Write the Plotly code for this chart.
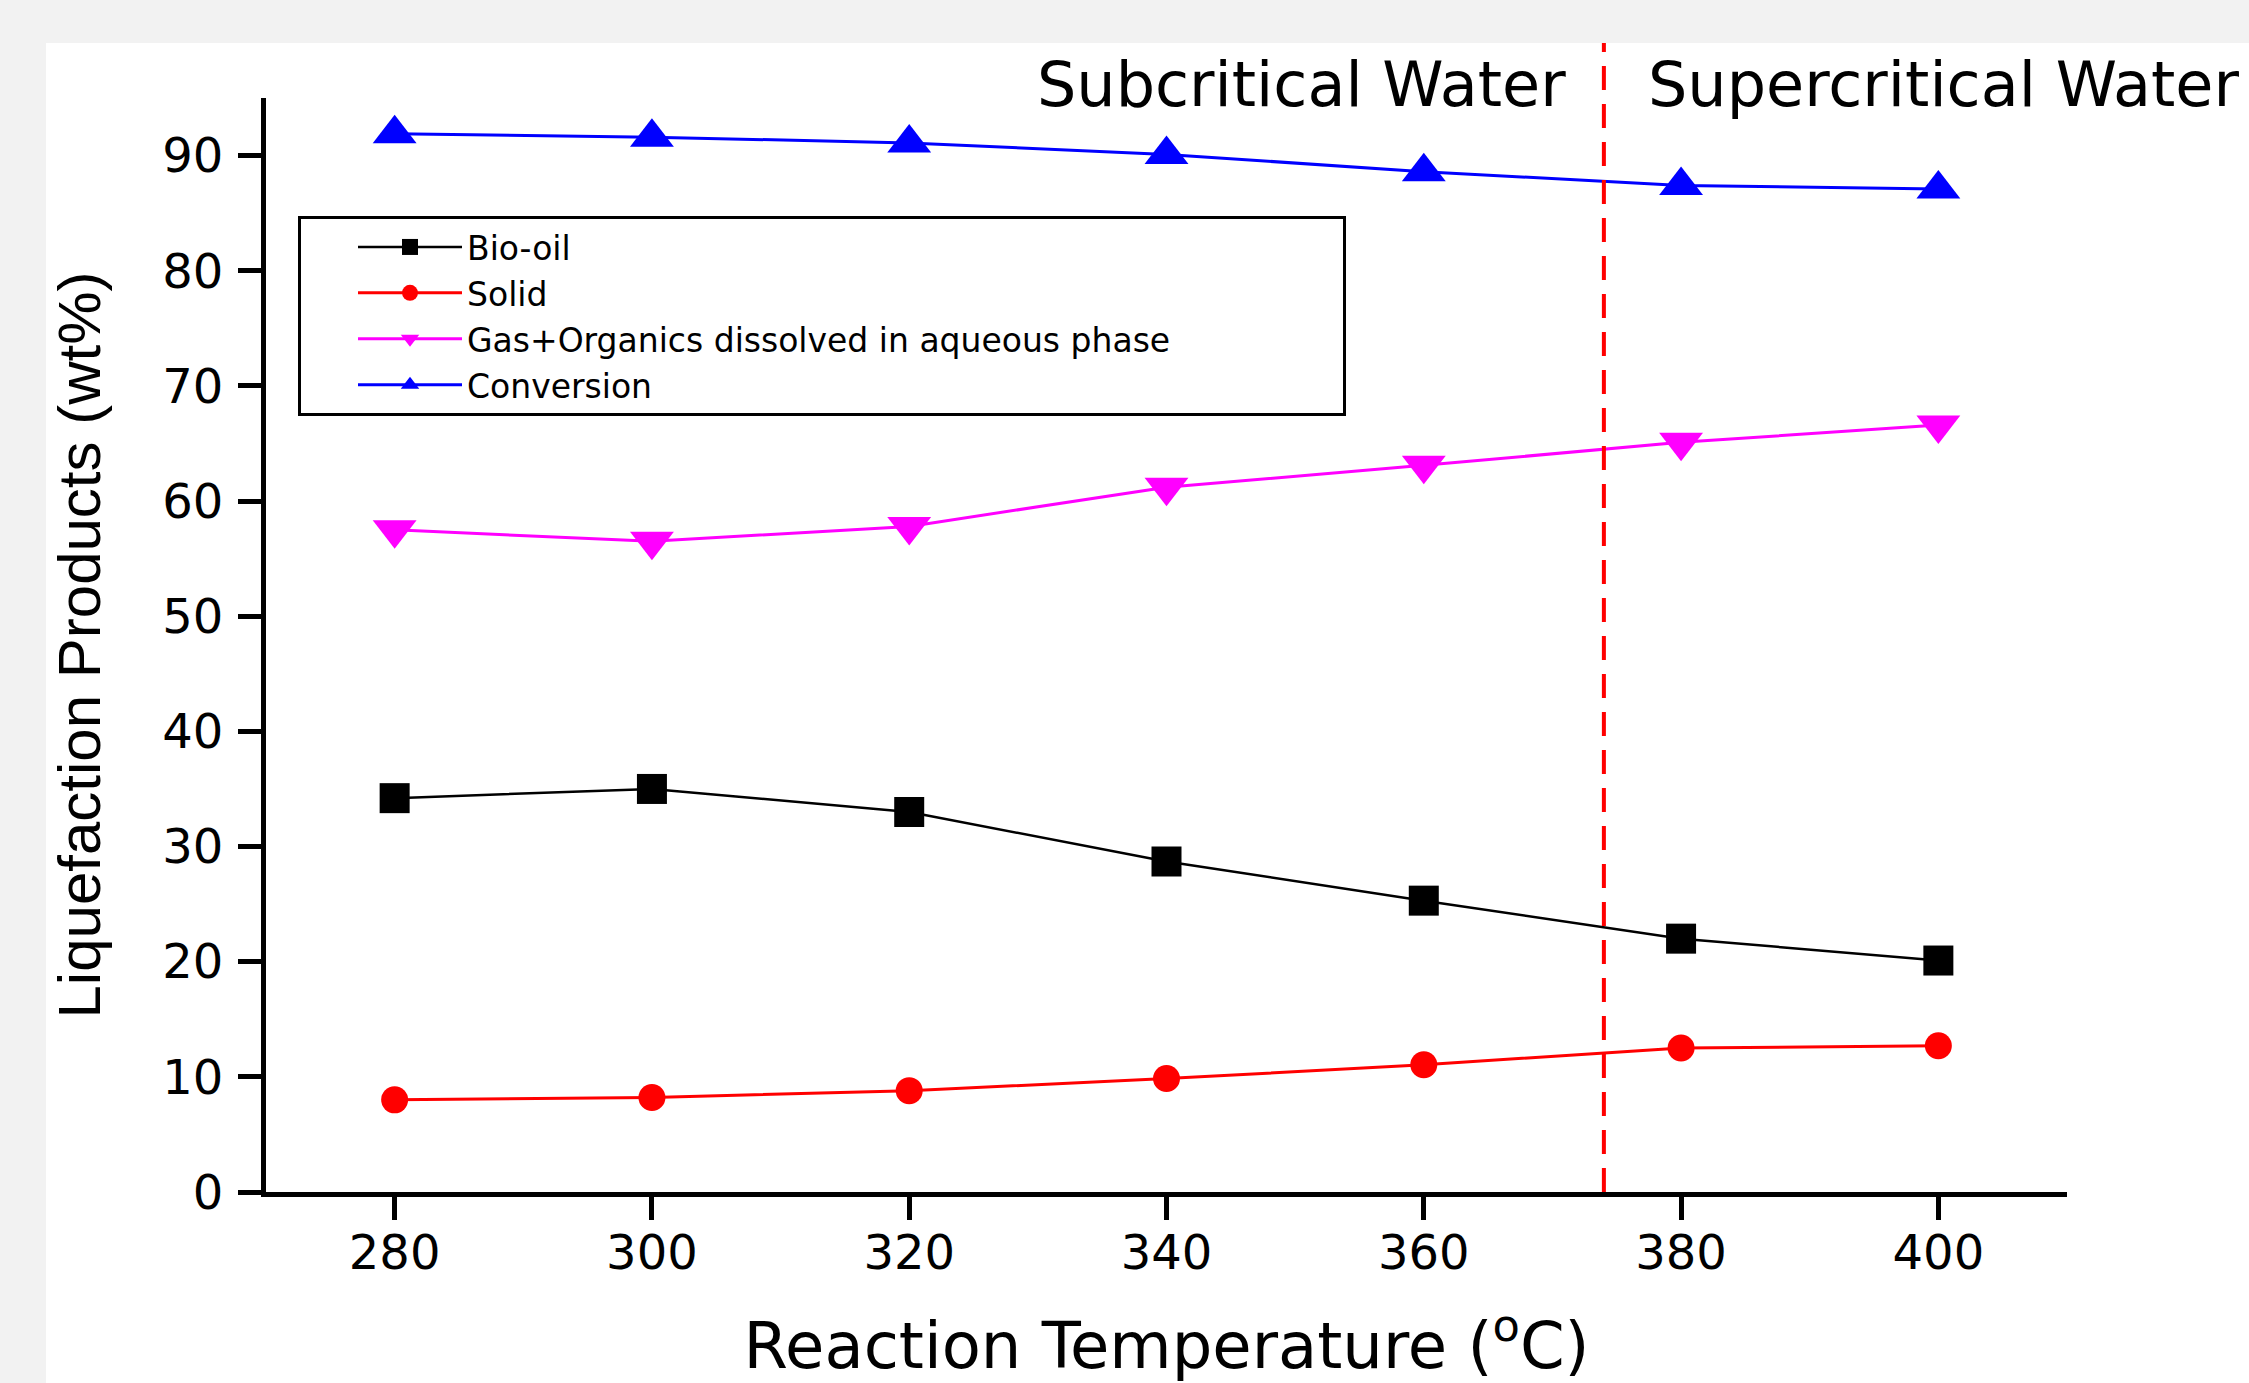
import plotly.graph_objects as go

# ---- data ----
temperature = [280, 300, 320, 340, 360, 380, 400]
bio_oil = [34.2, 35.0, 33.0, 28.7, 25.3, 22.0, 20.1]
solid = [8.0, 8.2, 8.8, 9.85, 11.05, 12.5, 12.7]
gas_organics = [57.5, 56.5, 57.8, 61.2, 63.1, 65.1, 66.6]
conversion = [91.9, 91.6, 91.1, 90.1, 88.6, 87.4, 87.1]

series_names = ["Bio-oil", "Solid", "Gas+Organics dissolved in aqueous phase", "Conversion"]

x_ticks = [280, 300, 320, 340, 360, 380, 400]
y_ticks = [0, 10, 20, 30, 40, 50, 60, 70, 80, 90]
x_range = [270, 410]
y_range = [0, 95]
critical_temp = 374

W, H = 2249, 1383
ML, MR, MT, MB = 266, 182, 98, 191
PW, PH = W - ML - MR, H - MT - MB


def px_x(p):
    return (p - ML) / PW


def px_y(p):
    return (H - MB - p) / PH


fig = go.Figure()

styles = [
    ("black", "square", 30, 2.5),
    ("#ff0000", "circle", 27, 3),
    ("#ff00ff", "triangle-down", 38, 3),
    ("#0000ff", "triangle-up", 38, 3),
]
pad = {"Gas+Organics dissolved in aqueous phase": "\u00a0" * 16}
for name, vals, (col, sym, ms, lw) in zip(series_names,
                                         [bio_oil, solid, gas_organics, conversion],
                                         styles):
    fig.add_trace(go.Scatter(
        x=temperature, y=vals, name=name + pad.get(name, ""), mode="lines+markers",
        line=dict(color=col, width=lw),
        marker=dict(symbol=sym, size=ms, color=col, line=dict(width=0)),
    ))

crit_xp = (critical_temp - x_range[0]) / (x_range[1] - x_range[0])

shapes = [
    dict(type="rect", xref="paper", yref="paper", x0=px_x(46), x1=1.3,
         y0=-0.3, y1=px_y(43), fillcolor="white", line=dict(width=0), layer="below"),
    dict(type="line", xref="paper", yref="paper", x0=crit_xp, x1=crit_xp,
         y0=0, y1=px_y(43), line=dict(color="#ff0000", width=4, dash="24px,14px"),
         layer="above"),
]

ann_font = dict(family="DejaVu Sans", size=62, color="black")
annotations = [
    dict(text="Subcritical Water", xref="paper", yref="paper", x=crit_xp,
         xanchor="right", xshift=-36, y=px_y(84), yanchor="middle",
         showarrow=False, font=ann_font),
    dict(text="Supercritical Water", xref="paper", yref="paper", x=crit_xp,
         xanchor="left", xshift=42, y=px_y(84), yanchor="middle",
         showarrow=False, font=ann_font),
]

fig.update_layout(
    width=W, height=H,
    margin=dict(l=ML, r=MR, t=MT, b=MB, pad=0),
    paper_bgcolor="#f2f2f2",
    plot_bgcolor="white",
    shapes=shapes,
    annotations=annotations,
    showlegend=True,
    legend=dict(
        x=px_x(298), y=px_y(216), xanchor="left", yanchor="top",
        bgcolor="white", bordercolor="black", borderwidth=3,
        font=dict(family="DejaVu Sans", size=33, color="black"),
        itemwidth=104, indentation=52,
        itemsizing="trace",
    ),
    xaxis=dict(
        range=x_range, tickvals=x_ticks, ticktext=[str(t) for t in x_ticks],
        showline=True, linecolor="black", linewidth=5, mirror=False,
        ticks="outside", ticklen=23, tickwidth=5, tickcolor="black",
        showgrid=False, zeroline=False, automargin=False,
        ticklabelstandoff=-9,
        tickfont=dict(family="DejaVu Sans", size=48, color="black"),
        title=dict(text="Reaction Temperature (<sup>o</sup>C)", standoff=46,
                   font=dict(family="DejaVu Sans", size=64, color="black")),
    ),
    yaxis=dict(
        range=y_range, tickvals=y_ticks, ticktext=[str(t) for t in y_ticks],
        showline=True, linecolor="black", linewidth=5, mirror=False,
        ticks="outside", ticklen=23, tickwidth=5, tickcolor="black",
        showgrid=False, zeroline=False, automargin=False,
        ticklabelstandoff=5,
        tickfont=dict(family="DejaVu Sans", size=48, color="black"),
        title=dict(text="Liquefaction Products (wt%)", standoff=44,
                   font=dict(family="Liberation Sans", size=60, color="black")),
    ),
)

fig.write_html(
    "out.html",
    config={"displayModeBar": False},
    post_script="document.body.style.margin='0';document.body.style.overflow='hidden';",
)
